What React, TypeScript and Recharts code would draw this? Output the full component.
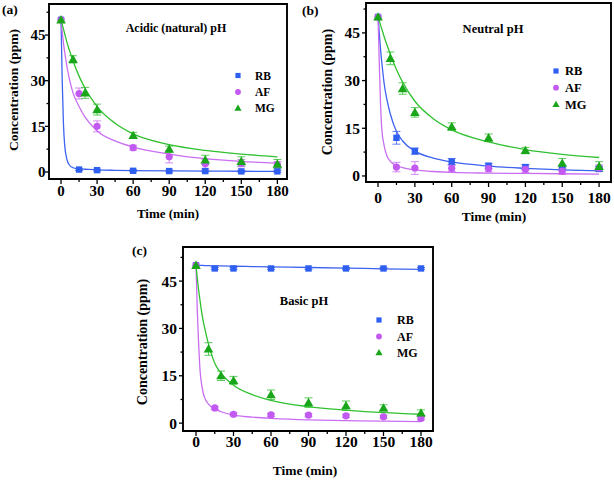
import React from "react";
import { ComposedChart, Line, Scatter, XAxis, YAxis, ErrorBar, ReferenceArea } from "recharts";

// sampling times (min)
const POINT_TIMES = [0, 15, 30, 60, 90, 120, 150, 180];
const MG_TIMES = [0, 10, 20, 30, 60, 90, 120, 150, 180];
const FIT_TIMES = [0, 1, 2, 3, 5, 7, 10, 15, 20, 30, 45, 60, 90, 120, 150, 180];
const X_TICKS = [0, 15, 30, 45, 60, 75, 90, 105, 120, 135, 150, 165, 180];
const Y_TICKS = [0, 7.5, 15, 22.5, 30, 37.5, 45, 52.5];

// (a) acidic
const acidRB = [50, 0.8, 0.6, 0.4, 0.3, 0.3, 0.2, 0.2];
const acidRBErr = [0, 0.3, 0.3, 0.3, 0.3, 0.3, 0.3, 0.3];
const acidAF = [50, 25.8, 15, 8, 5, 2.7, 2.9, 2.4];
const acidAFErr = [0, 1.8, 1.8, 0.8, 2, 1.5, 1.2, 1];
const acidMG = [50, 37, 26, 20.5, 12, 7.5, 4, 3.5, 2.6];
const acidMGErr = [0, 1.2, 1.8, 1.8, 1, 1, 1.5, 1.5, 1.5];
const acidRBFit = [50, 30, 16, 9, 4, 2.3, 1.4, 1.0, 0.9, 0.7, 0.55, 0.45, 0.35, 0.3, 0.25, 0.2];
const acidAFFit = [50, 46, 42.5, 39.5, 34.5, 30.5, 26, 21.5, 18, 13.5, 10.2, 8.2, 5.9, 4.4, 3.5, 2.9];
const acidMGFit = [50, 48.5, 47, 45.5, 42.5, 40, 36.5, 31.5, 27.5, 21.5, 16, 12.5, 9, 7.1, 5.9, 5];

// (b) neutral
const neutRB = [50, 12, 7.8, 4.5, 3.2, 2.8, 2.5, 2.2];
const neutRBErr = [0, 2, 1, 1, 0.8, 0.8, 0.8, 0.8];
const neutAF = [50, 2.8, 2.5, 2.4, 2.3, 2.1, 1.5, 2.5];
const neutAFErr = [0, 1.5, 2, 1, 1, 1, 1, 1];
const neutMG = [50, 37, 27.5, 20, 15.5, 12, 8, 4, 3];
const neutMGErr = [0, 2, 1.8, 1.5, 1.2, 1.2, 1, 1.5, 1.5];
const neutRBFit = [50, 45, 40, 36, 29, 24.5, 19.5, 14, 11, 7.8, 5.6, 4.4, 3.1, 2.4, 1.9, 1.6];
const neutAFFit = [50, 36, 23, 15, 9.5, 6.5, 4.6, 3.3, 2.6, 1.9, 1.4, 1.1, 0.9, 0.8, 0.7, 0.6];
const neutMGFit = [50, 48.8, 47.5, 46.3, 43.8, 41.5, 38.3, 33.5, 29.5, 23.5, 18, 14.5, 10.7, 8.3, 6.8, 5.8];

// (c) basic
const baseRB = [50, 49, 49, 49, 49, 49, 49, 49];
const baseRBErr = [0, 0.3, 0.3, 0.3, 0.3, 0.3, 0.3, 0.3];
const baseAF = [50, 4.8, 2.8, 2.6, 2.5, 2.3, 2.0, 1.5];
const baseAFErr = [0, 0.5, 0.5, 0.5, 0.5, 0.5, 0.5, 0.5];
const baseMG = [50, 23.5, 15, 13.5, 9, 6.5, 5.5, 4.8, 3.2];
const baseMGErr = [0, 2, 1.5, 1.3, 1.5, 1.5, 1.5, 1, 1];
const baseRBFit = [50, 50, 50, 50, 50, 49.9, 49.9, 49.8, 49.8, 49.7, 49.6, 49.5, 49.3, 49.1, 48.9, 48.7];
const baseAFFit = [50, 36, 26, 18, 11, 8, 6, 4.5, 3.6, 2.5, 1.9, 1.5, 1, 0.8, 0.6, 0.5];
const baseMGFit = [50, 46, 42.5, 39.5, 34, 30, 25, 19, 15.8, 12, 9, 7.2, 5.2, 4.1, 3.3, 2.8];

const BLUE = "#2f5ff0";
const BLUE_LINE = "#3d63f0";
const PURPLE = "#c25af2";
const PURPLE_LINE = "#c96ef2";
const GREEN = "#1aa61a";
const GREEN_LINE = "#30c030";

const FONT = "Liberation Serif, Times New Roman, serif";

const pts = (times: number[], vals: number[], errs: number[]) =>
  times.map((t, i) => ({ t, c: vals[i], e: errs[i] }));
const fit = (vals: number[]) => FIT_TIMES.map((t, i) => ({ t, c: vals[i] }));

const square = (color: string) => (p: any) =>
  <rect x={p.cx - 3.2} y={p.cy - 3.2} width={6.4} height={6.4} fill={color} />;
const circle = (color: string) => (p: any) =>
  <circle cx={p.cx} cy={p.cy} r={3.6} fill={color} />;
const triangle = (color: string) => (p: any) =>
  <polygon points={`${p.cx},${p.cy - 4.8} ${p.cx - 4.8},${p.cy + 3.6} ${p.cx + 4.8},${p.cy + 3.6}`} fill={color} />;

interface Series {
  points: any[];
  curve: any[];
  color: string;
  line: string;
  shape: (c: string) => (p: any) => any;
}

interface PanelProps {
  left: number;
  top: number;
  width: number;
  height: number;
  plot: { l: number; r: number; t: number; b: number };
  xDomain: [number, number];
  yDomain: [number, number];
  series: Series[];
  font: number;
  xBase: number;
  yGap: number;
}

function Panel({ left, top, width, height, plot, xDomain, yDomain, series, font, xBase, yGap }: PanelProps) {
  const xTick = (p: any) => {
    const v = p.payload.value;
    const major = v % 30 === 0;
    return (
      <g>
        <line x1={p.x} x2={p.x} y1={p.y} y2={p.y + (major ? 5 : 3)} stroke="#000" strokeWidth={1.3} />
        {major && (
          <text x={p.x} y={p.y + xBase} textAnchor="middle" fontSize={font} fontWeight="bold" fontFamily={FONT} fill="#000">
            {v}
          </text>
        )}
      </g>
    );
  };
  const yTick = (p: any) => {
    const v = p.payload.value;
    const major = v % 15 === 0;
    return (
      <g>
        <line x1={p.x} x2={p.x - (major ? 4 : 2.5)} y1={p.y} y2={p.y} stroke="#000" strokeWidth={1.3} />
        {major && (
          <text x={p.x - yGap} y={p.y} dy="0.35em" textAnchor="end" fontSize={font} fontWeight="bold" fontFamily={FONT} fill="#000">
            {v}
          </text>
        )}
      </g>
    );
  };
  return (
    <div style={{ position: "absolute", left, top }}>
      <ComposedChart
        width={width}
        height={height}
        margin={{ top: plot.t, right: width - plot.r, bottom: height - plot.b - 30, left: 0 }}
      >
        <XAxis
          type="number"
          dataKey="t"
          domain={xDomain}
          ticks={X_TICKS}
          interval={0}
          allowDataOverflow
          axisLine={false}
          tickLine={false}
          tickSize={0}
          tickMargin={0}
          height={30}
          tick={xTick}
        />
        <YAxis
          type="number"
          dataKey="c"
          domain={yDomain}
          ticks={Y_TICKS}
          interval={0}
          allowDataOverflow
          axisLine={false}
          tickLine={false}
          tickSize={0}
          tickMargin={0}
          width={plot.l}
          tick={yTick}
        />
        <ReferenceArea
          x1={xDomain[0]}
          x2={xDomain[1]}
          y1={yDomain[0]}
          y2={yDomain[1]}
          ifOverflow="visible"
          fill="none"
          fillOpacity={0}
          stroke="#000"
          strokeWidth={1.9}
        />
        {series.map((s, i) => (
          <Line
            key={"l" + i}
            data={s.curve}
            dataKey="c"
            type="monotone"
            dot={false}
            stroke={s.line}
            strokeWidth={1.3}
            isAnimationActive={false}
          />
        ))}
        {series.map((s, i) => (
          <Scatter key={"s" + i} data={s.points} dataKey="c" shape={s.shape(s.color)} isAnimationActive={false}>
            <ErrorBar dataKey="e" direction="y" width={4} stroke={s.line} strokeWidth={1} strokeOpacity={0.8} />
          </Scatter>
        ))}
      </ComposedChart>
    </div>
  );
}

const acidSeries: Series[] = [
  { points: pts(POINT_TIMES, acidRB, acidRBErr), curve: fit(acidRBFit), color: BLUE, line: BLUE_LINE, shape: square },
  { points: pts(POINT_TIMES, acidAF, acidAFErr), curve: fit(acidAFFit), color: PURPLE, line: PURPLE_LINE, shape: circle },
  { points: pts(MG_TIMES, acidMG, acidMGErr), curve: fit(acidMGFit), color: GREEN, line: GREEN_LINE, shape: triangle },
];
const neutSeries: Series[] = [
  { points: pts(POINT_TIMES, neutRB, neutRBErr), curve: fit(neutRBFit), color: BLUE, line: BLUE_LINE, shape: square },
  { points: pts(POINT_TIMES, neutAF, neutAFErr), curve: fit(neutAFFit), color: PURPLE, line: PURPLE_LINE, shape: circle },
  { points: pts(MG_TIMES, neutMG, neutMGErr), curve: fit(neutMGFit), color: GREEN, line: GREEN_LINE, shape: triangle },
];
const baseSeries: Series[] = [
  { points: pts(POINT_TIMES, baseRB, baseRBErr), curve: fit(baseRBFit), color: BLUE, line: BLUE_LINE, shape: square },
  { points: pts(POINT_TIMES, baseAF, baseAFErr), curve: fit(baseAFFit), color: PURPLE, line: PURPLE_LINE, shape: circle },
  { points: pts(MG_TIMES, baseMG, baseMGErr), curve: fit(baseMGFit), color: GREEN, line: GREEN_LINE, shape: triangle },
];

function Legend({ x, tx, ys, size }: { x: number; tx: number; ys: number[]; size: number }) {
  const labels = ["RB", "AF", "MG"];
  return (
    <g>
      <rect x={x - 2.6} y={ys[0] - 2.6} width={5.2} height={5.2} fill={BLUE} />
      <circle cx={x} cy={ys[1]} r={2.9} fill={PURPLE} />
      <polygon points={`${x},${ys[2] - 3.6} ${x - 3.6},${ys[2] + 2.8} ${x + 3.6},${ys[2] + 2.8}`} fill={GREEN} />
      {labels.map((l, i) => (
        <text key={l} x={tx} y={ys[i]} dy="0.35em" fontSize={size} fontWeight="bold" fontFamily={FONT} fill="#000">
          {l}
        </text>
      ))}
    </g>
  );
}

const txt = { fontWeight: "bold" as const, fontFamily: FONT, fill: "#000" };

export default function App() {
  return (
    <div style={{ position: "absolute", left: 0, top: 0, width: 614, height: 480, background: "#fff", overflow: "hidden" }}>
      <Panel
        left={0}
        top={0}
        width={300}
        height={240}
        plot={{ l: 49, r: 287, t: 4, b: 179 }}
        xDomain={[-10, 188]}
        yDomain={[-2.3, 55.2]}
        series={acidSeries}
        font={15}
        xBase={17}
        yGap={3.5}
      />
      <Panel
        left={300}
        top={0}
        width={314}
        height={240}
        plot={{ l: 66, r: 311, t: 3, b: 182 }}
        xDomain={[-9.8, 189.7]}
        yDomain={[-1.9, 54.4]}
        series={neutSeries}
        font={15.5}
        xBase={21}
        yGap={6}
      />
      <Panel
        left={140}
        top={240}
        width={330}
        height={240}
        plot={{ l: 43, r: 293, t: 7, b: 191 }}
        xDomain={[-10.4, 189.6]}
        yDomain={[-2.5, 55.8]}
        series={baseSeries}
        font={15.5}
        xBase={16}
        yGap={6}
      />
      <svg width={614} height={480} style={{ position: "absolute", left: 0, top: 0, pointerEvents: "none" }}>
        <text x={2} y={14} fontSize={13.5} {...txt}>(a)</text>
        <text x={302} y={15} fontSize={13.5} {...txt}>(b)</text>
        <text x={132} y={255} fontSize={13.5} {...txt}>(c)</text>

        <text x={176} y={32} fontSize={12} textAnchor="middle" {...txt}>Acidic (natural) pH</text>
        <text x={493} y={33} fontSize={12.5} textAnchor="middle" {...txt}>Neutral pH</text>
        <text x={304} y={305} fontSize={12.5} textAnchor="middle" {...txt}>Basic pH</text>

        <text x={168} y={218} fontSize={13} textAnchor="middle" {...txt}>Time (min)</text>
        <text x={494} y={221} fontSize={13.5} textAnchor="middle" {...txt}>Time (min)</text>
        <text x={305} y={475} fontSize={13.5} textAnchor="middle" {...txt}>Time (min)</text>

        <text x={13} y={90} fontSize={13.5} textAnchor="middle" dy="0.35em" transform="rotate(-90 13 90)" {...txt}>Concentration (ppm)</text>
        <text x={327} y={92} fontSize={14} textAnchor="middle" dy="0.35em" transform="rotate(-90 327 92)" {...txt}>Concentration (ppm)</text>
        <text x={142} y={342} fontSize={14} textAnchor="middle" dy="0.35em" transform="rotate(-90 142 342)" {...txt}>Concentration (ppm)</text>

        <Legend x={238} tx={255} ys={[75.5, 92, 108]} size={11.5} />
        <Legend x={556} tx={565} ys={[71, 87.7, 104.3]} size={12.5} />
        <Legend x={379} tx={397} ys={[320, 336.5, 352.5]} size={12} />
      </svg>
    </div>
  );
}
